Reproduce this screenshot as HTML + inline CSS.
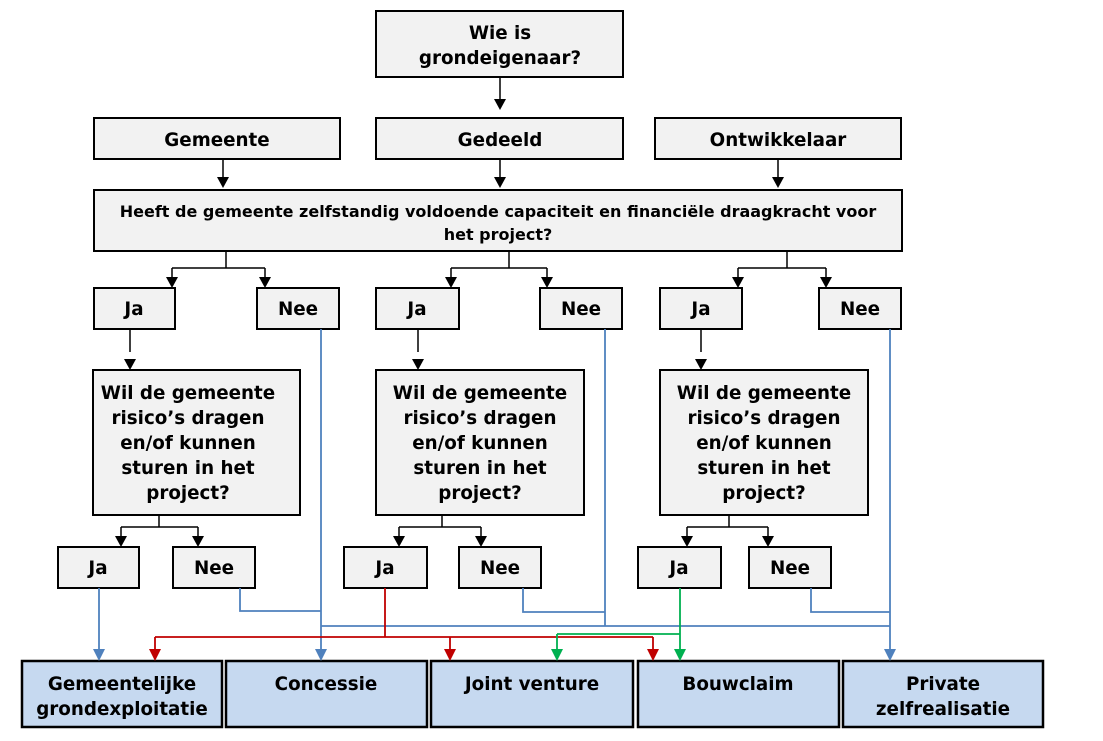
<!DOCTYPE html>
<html><head><meta charset="utf-8"><style>
body{margin:0;background:#fff;}
svg{display:block;}
text{font-family:"DejaVu Sans","Liberation Sans",sans-serif;font-weight:bold;font-size:18.3px;fill:#000;text-anchor:middle;}
.g{fill:#f2f2f2;stroke:#000;stroke-width:2;}
.b{fill:#c6d9f0;stroke:#000;stroke-width:2.5;}
.k{stroke:#000;stroke-width:1.5;fill:none;}
.bl{stroke:#4f81bd;stroke-width:1.8;fill:none;}
.rd{stroke:#c00000;stroke-width:1.8;fill:none;}
.gr{stroke:#00b050;stroke-width:1.8;fill:none;}
</style></head><body>
<svg width="1103" height="741" viewBox="0 0 1103 741">
<rect class="g" x="376" y="11" width="247" height="66"/>
<text x="500" y="39">Wie is</text><text x="500" y="64">grondeigenaar?</text>
<rect class="g" x="94" y="118" width="246" height="41"/><text x="217" y="146">Gemeente</text>
<rect class="g" x="376" y="118" width="247" height="41"/><text x="500" y="146">Gedeeld</text>
<rect class="g" x="655" y="118" width="246" height="41"/><text x="778" y="146">Ontwikkelaar</text>
<rect class="g" x="94" y="190" width="808" height="61"/>
<text x="498" y="217" style="font-size:16px">Heeft de gemeente zelfstandig voldoende capaciteit en financiële draagkracht voor</text>
<text x="498" y="240" style="font-size:16px">het project?</text>
<rect class="g" x="94" y="288" width="81" height="41"/><text x="134" y="315">Ja</text>
<rect class="g" x="257" y="288" width="82" height="41"/><text x="298" y="315">Nee</text>
<rect class="g" x="376" y="288" width="83" height="41"/><text x="417" y="315">Ja</text>
<rect class="g" x="540" y="288" width="82" height="41"/><text x="581" y="315">Nee</text>
<rect class="g" x="660" y="288" width="82" height="41"/><text x="701" y="315">Ja</text>
<rect class="g" x="819" y="288" width="82" height="41"/><text x="860" y="315">Nee</text>
<g>
<rect class="g" x="93" y="370" width="207" height="145"/>
<text x="188" y="399">Wil de gemeente</text><text x="188" y="424">risico’s dragen</text><text x="188" y="449">en/of kunnen</text><text x="188" y="474">sturen in het</text><text x="188" y="499">project?</text>
<rect class="g" x="376" y="370" width="208" height="145"/>
<text x="480" y="399">Wil de gemeente</text><text x="480" y="424">risico’s dragen</text><text x="480" y="449">en/of kunnen</text><text x="480" y="474">sturen in het</text><text x="480" y="499">project?</text>
<rect class="g" x="660" y="370" width="208" height="145"/>
<text x="764" y="399">Wil de gemeente</text><text x="764" y="424">risico’s dragen</text><text x="764" y="449">en/of kunnen</text><text x="764" y="474">sturen in het</text><text x="764" y="499">project?</text>
</g>
<rect class="g" x="58" y="547" width="81" height="41"/><text x="98" y="574">Ja</text>
<rect class="g" x="173" y="547" width="82" height="41"/><text x="214" y="574">Nee</text>
<rect class="g" x="344" y="547" width="83" height="41"/><text x="385" y="574">Ja</text>
<rect class="g" x="459" y="547" width="82" height="41"/><text x="500" y="574">Nee</text>
<rect class="g" x="638" y="547" width="83" height="41"/><text x="679" y="574">Ja</text>
<rect class="g" x="749" y="547" width="82" height="41"/><text x="790" y="574">Nee</text>
<rect class="b" x="22" y="661" width="200" height="66"/><text x="122" y="690">Gemeentelijke</text><text x="122" y="715">grondexploitatie</text>
<rect class="b" x="226" y="661" width="201" height="66"/><text x="326" y="690">Concessie</text>
<rect class="b" x="431" y="661" width="202" height="66"/><text x="532" y="690">Joint venture</text>
<rect class="b" x="638" y="661" width="201" height="66"/><text x="738" y="690">Bouwclaim</text>
<rect class="b" x="843" y="661" width="200" height="66"/><text x="943" y="690">Private</text><text x="943" y="715">zelfrealisatie</text>
<g class="k">
<path d="M500 77 V100"/><path d="M223 159 V178"/><path d="M500 159 V178"/><path d="M778 159 V178"/>
<path d="M226 251 V268 M172 268 H265 M172 268 V278 M265 268 V278"/>
<path d="M509 251 V268 M451 268 H547 M451 268 V278 M547 268 V278"/>
<path d="M787 251 V268 M738 268 H826 M738 268 V278 M826 268 V278"/>
<path d="M130 329 V352"/><path d="M418 329 V352"/><path d="M701 329 V352"/>
<path d="M159 515 V527 M121 527 H198 M121 527 V537 M198 527 V537"/>
<path d="M442 515 V527 M399 527 H481 M399 527 V537 M481 527 V537"/>
<path d="M729 515 V527 M687 527 H768 M687 527 V537 M768 527 V537"/>
</g>
<g fill="#000">
<path d="M494 99 h12 l-6 11z"/>
<path d="M217 177 h12 l-6 11z"/><path d="M494 177 h12 l-6 11z"/><path d="M772 177 h12 l-6 11z"/>
<path d="M166 277 h12 l-6 11z"/><path d="M259 277 h12 l-6 11z"/>
<path d="M445 277 h12 l-6 11z"/><path d="M541 277 h12 l-6 11z"/>
<path d="M732 277 h12 l-6 11z"/><path d="M820 277 h12 l-6 11z"/>
<path d="M124 359 h12 l-6 11z"/><path d="M412 359 h12 l-6 11z"/><path d="M695 359 h12 l-6 11z"/>
<path d="M115 536 h12 l-6 11z"/><path d="M192 536 h12 l-6 11z"/>
<path d="M393 536 h12 l-6 11z"/><path d="M475 536 h12 l-6 11z"/>
<path d="M681 536 h12 l-6 11z"/><path d="M762 536 h12 l-6 11z"/>
</g>
<g class="bl">
<path d="M99 588 V650"/>
<path d="M321 329 V650"/>
<path d="M240 588 V611 H321"/>
<path d="M321 626 H890"/>
<path d="M605 329 V626"/>
<path d="M523 588 V612 H605"/>
<path d="M890 329 V650"/>
<path d="M811 588 V612 H890"/>
</g>
<g fill="#4f81bd">
<path d="M93 649 h12 l-6 12z"/><path d="M315 649 h12 l-6 12z"/><path d="M884 649 h12 l-6 12z"/>
</g>
<g class="rd"><path d="M385 588 V637"/><path d="M155 637 H653 M155 637 V650 M450 637 V650 M653 637 V650"/></g>
<g fill="#c00000"><path d="M149 649 h12 l-6 12z"/><path d="M444 649 h12 l-6 12z"/><path d="M647 649 h12 l-6 12z"/></g>
<g class="gr"><path d="M680 588 V650"/><path d="M557 634 H680 M557 634 V650"/></g>
<g fill="#00b050"><path d="M551 649 h12 l-6 12z"/><path d="M674 649 h12 l-6 12z"/></g>
</svg>
</body></html>
